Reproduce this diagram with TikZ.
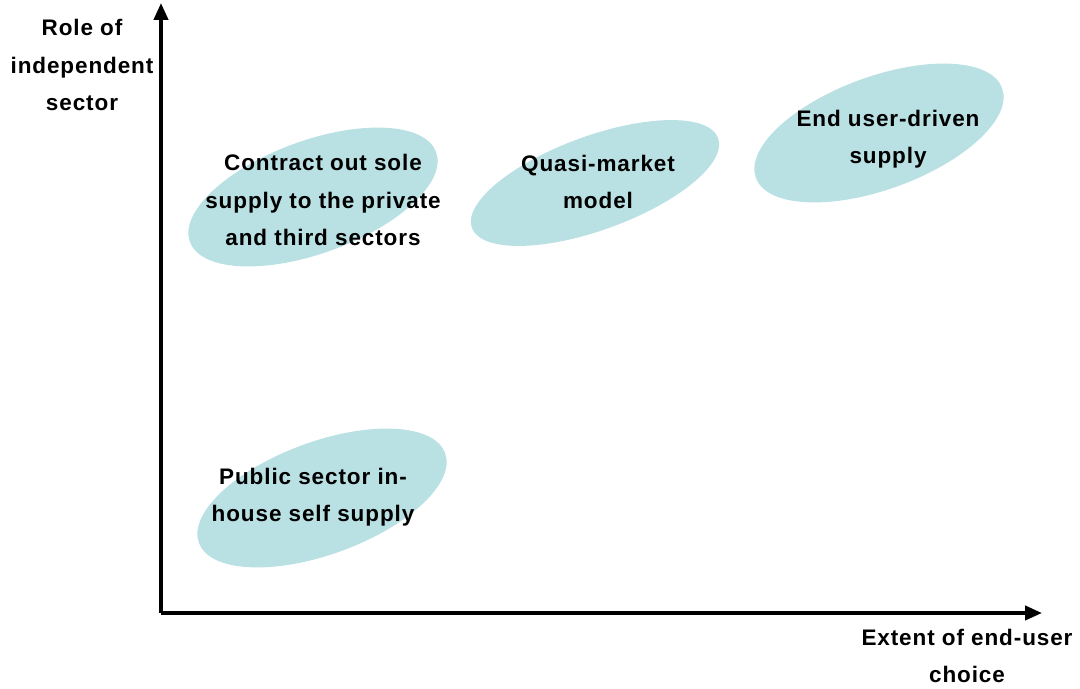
\documentclass[tikz,border=0pt]{standalone}
\usepackage{fontspec}
\setmainfont{Liberation Sans}[LetterSpace=4]
\usepackage{tikz}
\usetikzlibrary{arrows.meta,shapes.geometric}

\begin{document}
\begin{tikzpicture}[x=0.025cm,y=-0.025cm,
	axis/.style={line width=2.6pt,-{Triangle[length=12pt,width=10pt]}},
	blob/.style={ellipse,fill=blobcol,draw=none,inner sep=0pt,rotate=20},
	lbl/.style={align=center,font=\bfseries\fontsize{16}{26.5}\selectfont}]
	\definecolor{blobcol}{RGB}{185,224,227}
	\useasboundingbox (0,0) rectangle (1080,689);
	%axes
	\coordinate (origin) at (161,613);
	\coordinate (ytop) at (161,3);
	\coordinate (xend) at (1042,613);
	\draw[axis] (origin)--(ytop);
	\draw[axis] (origin)--(xend);
	%
	%ellipses
	\node[blob,minimum width=6.55cm,minimum height=2.82cm] (contract) at (313,197) {};
	\node[blob,minimum width=6.55cm,minimum height=2.35cm] (quasi) at (595,183) {};
	\node[blob,minimum width=6.55cm,minimum height=2.82cm] (enduser) at (879,133) {};
	\node[blob,minimum width=6.55cm,minimum height=2.82cm] (public) at (322,498) {};
	%
	%inner labels
	\node[lbl] (contracttxt) at (323,200) {Contract out sole\\supply to the private\\and third sectors};
	\node[lbl] (quasitxt) at (598,182) {Quasi-market\\model};
	\node[lbl] (endusertxt) at (888,139) {End user-driven\\supply};
	\node[lbl] (publictxt) at (313,497) {Public sector in-\\house self supply};
	%
	%axis labels
	\node[lbl] (ylabel) at (82,65) {Role of\\independent\\sector};
	\node[lbl] (xlabel) at (967,656) {Extent of end-user\\choice};
\end{tikzpicture}
\end{document}
